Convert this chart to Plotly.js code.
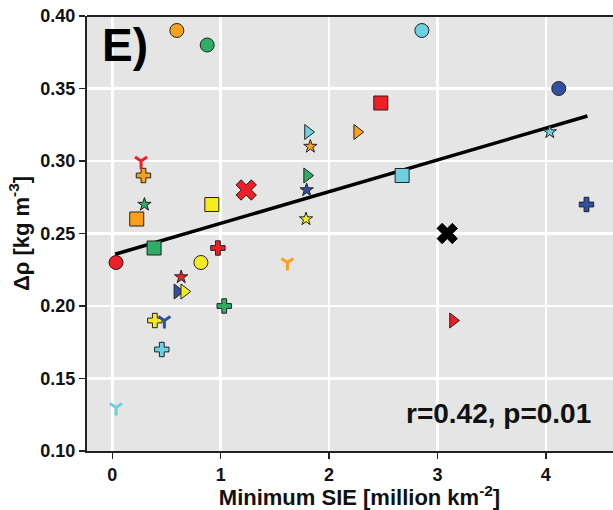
<!DOCTYPE html>
<html>
<head>
<meta charset="utf-8">
<script src="https://cdn.plot.ly/plotly-3.0.1.min.js"></script>
<style>
html, body { margin: 0; padding: 0; overflow: hidden; background: #fff; }
#chart { width: 632px; height: 510px; }
</style>
</head>
<body>
<div id="chart"></div>
<script>
// Minimum sea-ice extent [million km^-2]
const minSIE = [
  0.595, 0.875, 2.856, 4.119, 0.034, 0.817,
  0.225, 0.918, 2.477, 2.674, 0.385,
  1.235, 3.09,
  1.805, 1.797, 2.259, 3.143, 0.60, 0.663,
  1.827, 1.793, 1.787, 0.296, 0.635, 4.036,
  0.287, 0.974, 1.032, 0.392, 0.456, 4.375,
  0.265, 1.615, 0.48, 0.034
];
// Density difference [kg m^-3]
const deltaRho = [
  0.39, 0.38, 0.39, 0.35, 0.23, 0.23,
  0.26, 0.27, 0.34, 0.29, 0.24,
  0.28, 0.25,
  0.32, 0.29, 0.32, 0.19, 0.21, 0.21,
  0.31, 0.28, 0.26, 0.27, 0.22, 0.32,
  0.29, 0.24, 0.20, 0.19, 0.17, 0.27,
  0.30, 0.23, 0.19, 0.13
];
// Colour group of each point
const colourGroup = [
  'orange','green','lightblue','blue','red','yellow',
  'orange','yellow','red','lightblue','green',
  'red','black',
  'lightblue','green','orange','red','blue','yellow',
  'orange','blue','yellow','green','red','lightblue',
  'orange','red','green','yellow','lightblue','blue',
  'red','orange','blue','lightblue'
];
// Marker group of each point
const markerGroup = [
  'circle','circle','circle','circle','circle','circle',
  'square','square','square','square','square',
  'x','x',
  'tri','tri','tri','tri','tri','tri',
  'star','star','star','star','star','star',
  'plus','plus','plus','plus','plus','plus',
  'y','y','y','y'
];
// Regression line end points
const fitX = [0.025, 4.384];
const fitY = [0.2357, 0.331];

const xTicks = [0, 1, 2, 3, 4];
const yTicks = [0.10, 0.15, 0.20, 0.25, 0.30, 0.35, 0.40];
const statText = 'r=0.42, p=0.01';
const panelLabel = 'E)';

const palette = {
  orange: '#f9a11b', green: '#2fac66', lightblue: '#6dcfe0', blue: '#3150a2',
  red: '#ee1f26', yellow: '#f6ec1c', black: '#000000'
};
const symbolMap = { circle: 'circle', square: 'square', x: 'x', tri: 'triangle-right', star: 'star', plus: 'cross', y: 'y-down' };
const sizeMap = { circle: 14, square: 14, x: 18, tri: 13, star: 10, plus: 12, y: 10 };

const colors = colourGroup.map(c => palette[c]);
const symbols = markerGroup.map(m => symbolMap[m]);
const sizes = markerGroup.map(m => sizeMap[m]);
const lineColors = markerGroup.map((m, i) => m === 'y' ? palette[colourGroup[i]] : (colourGroup[i] === 'black' ? '#000' : '#222'));
const lineWidths = markerGroup.map(m => m === 'y' ? 3 : 1);

const FONT = 'Liberation Sans, Arial, Helvetica, sans-serif';

const traces = [
  {
    x: fitX, y: fitY, mode: 'lines', type: 'scatter',
    line: { color: '#000', width: 3.5 }, hoverinfo: 'skip'
  },
  {
    x: minSIE, y: deltaRho, mode: 'markers', type: 'scatter',
    marker: { symbol: symbols, color: colors, size: sizes, opacity: 1,
      line: { color: lineColors, width: lineWidths } }
  }
];

const layout = {
  width: 632, height: 510,
  margin: { l: 87, r: 0, t: 16, b: 59 },
  paper_bgcolor: '#ffffff',
  plot_bgcolor: '#e5e5e5',
  showlegend: false,
  font: { family: FONT, color: '#111' },
  xaxis: {
    range: [-0.234, 4.795],
    tickvals: xTicks, ticktext: xTicks.map(String),
    ticks: 'outside', ticklen: 6, tickwidth: 1.5, tickcolor: '#222',
    showline: true, linecolor: '#222', linewidth: 2,
    showgrid: true, gridcolor: '#ffffff', gridwidth: 2.5, zeroline: false,
    tickfont: { family: FONT, size: 18, weight: 'bold', color: '#111' },
    title: { text: 'Minimum SIE [million km<sup>-2</sup>]', standoff: 7,
      font: { family: FONT, size: 22, weight: 'bold', color: '#111' } }
  },
  yaxis: {
    range: [0.10, 0.40],
    tickvals: yTicks, ticktext: yTicks.map(v => v.toFixed(2)),
    ticks: 'outside', ticklen: 6, tickwidth: 1.5, tickcolor: '#222',
    showline: true, linecolor: '#222', linewidth: 2,
    showgrid: true, gridcolor: '#ffffff', gridwidth: 2.5, zeroline: false,
    tickfont: { family: FONT, size: 18, weight: 'bold', color: '#111' },
    title: { text: 'Δρ [kg m<sup>-3</sup>]', standoff: 5,
      font: { family: FONT, size: 22, weight: 'bold', color: '#111' } }
  },
  shapes: [
    { type: 'line', xref: 'paper', yref: 'paper', x0: 0, x1: 1, y0: 1, y1: 1,
      line: { color: '#222', width: 2 } }
  ],
  annotations: [
    { text: panelLabel, xref: 'x', yref: 'y', x: -0.115, y: 0.380,
      xanchor: 'left', yanchor: 'middle', showarrow: false,
      font: { family: FONT, size: 46, weight: 'bold', color: '#000' } },
    { text: statText, xref: 'x', yref: 'y', x: 4.434, y: 0.1262,
      xanchor: 'right', yanchor: 'middle', showarrow: false,
      font: { family: FONT, size: 28, weight: 'bold', color: '#111' } }
  ]
};

Plotly.newPlot('chart', traces, layout, { displayModeBar: false, staticPlot: true });
</script>
</body>
</html>
